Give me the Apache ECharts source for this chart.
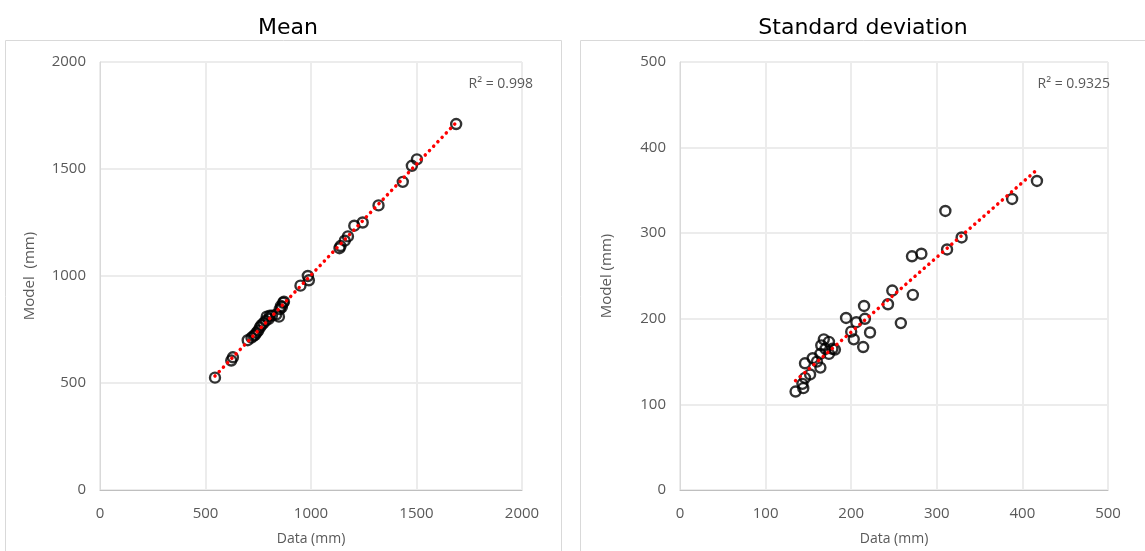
<!DOCTYPE html>
<html>
<head>
<meta charset="utf-8">
<script src="https://cdn.jsdelivr.net/npm/echarts@6/dist/echarts.min.js"></script>
<style>
  html, body { margin: 0; padding: 0; background: #fff; }
  #chart { width: 1145px; height: 551px; }
</style>
</head>
<body>
<div id="chart"></div>
<script>
// mean: data vs model (mm)
const meanData = [545, 622, 630, 700, 718, 728, 735, 742, 750, 758, 765, 775, 785, 790, 800, 805, 815, 835, 848, 852, 858, 862, 868, 872, 950, 985, 990, 1135, 1140, 1160, 1175, 1205, 1245, 1320, 1435, 1478, 1502, 1688];
const meanModel = [525, 605, 620, 700, 712, 720, 725, 735, 745, 760, 770, 780, 790, 810, 800, 815, 815, 820, 810, 845, 860, 855, 875, 880, 955, 1000, 980, 1130, 1140, 1165, 1185, 1235, 1250, 1330, 1440, 1515, 1545, 1710];

// standard deviation: data vs model (mm)
const sdData = [135, 144, 143, 146, 146, 152, 155, 160, 164, 164, 165, 168, 170, 174, 174, 178, 181, 194, 200, 203, 206, 214, 215, 216, 222, 243, 248, 258, 272, 271, 282, 310, 312, 329, 388, 417];
const sdModel = [115, 119, 124, 131, 148, 135, 154, 150, 143, 159, 169, 176, 165, 173, 159, 165, 164, 201, 185, 176, 196, 167, 215, 200, 184, 217, 233, 195, 228, 273, 276, 326, 281, 295, 340, 361];

const meanTicks = [0, 500, 1000, 1500, 2000];
const sdTicks = [0, 100, 200, 300, 400, 500];
const r2Labels = ['R² = 0.998', 'R² = 0.9325'];

const pairs = (xs, ys) => xs.map((x, i) => [x, ys[i]]);

// linear trendline from min x to max x
function trend(xs, ys) {
  const n = xs.length;
  const mx = xs.reduce((a, b) => a + b, 0) / n;
  const my = ys.reduce((a, b) => a + b, 0) / n;
  let sxy = 0, sxx = 0;
  for (let i = 0; i < n; i++) {
    sxy += (xs[i] - mx) * (ys[i] - my);
    sxx += (xs[i] - mx) * (xs[i] - mx);
  }
  const b = sxy / sxx, a = my - b * mx;
  const x0 = Math.min(...xs), x1 = Math.max(...xs);
  return [[x0, a + b * x0], [x1, a + b * x1]];
}

const labelFont = { color: '#595959', fontSize: 15, fontFamily: 'Open Sans', formatter: v => String(v) };
const splitColor = '#ececec';

function xAx(idx, ticks) {
  return {
    type: 'value', gridIndex: idx,
    min: ticks[0], max: ticks[ticks.length - 1], interval: ticks[1] - ticks[0],
    name: 'Data (mm)', nameLocation: 'middle', nameGap: 42,
    nameTextStyle: { color: '#595959', fontSize: 14, fontFamily: 'Open Sans' },
    axisLine: { lineStyle: { color: '#bfbfbf', width: 1 } },
    axisTick: { show: false },
    axisLabel: Object.assign({ margin: 16 }, labelFont),
    splitLine: { lineStyle: { color: splitColor, width: 2 } }
  };
}

function yAx(idx, ticks, name, gap) {
  return {
    type: 'value', gridIndex: idx,
    min: ticks[0], max: ticks[ticks.length - 1], interval: ticks[1] - ticks[0],
    name: name, nameLocation: 'middle', nameGap: gap,
    nameTextStyle: { color: '#595959', fontSize: 15, fontFamily: 'Open Sans' },
    axisLine: { show: true, lineStyle: { color: '#d9d9d9', width: 1 } },
    axisTick: { show: false },
    axisLabel: Object.assign({ margin: 14 }, labelFont),
    splitLine: { lineStyle: { color: splitColor, width: 2 } }
  };
}

const pointStyle = {
  type: 'scatter', symbol: 'circle', symbolSize: 10,
  itemStyle: { color: 'rgba(0,0,0,0)', borderColor: '#000', borderWidth: 2.4 },
  z: 2
};
const trendStyle = {
  type: 'line', symbol: 'none', z: 5,
  lineStyle: { color: '#ff0000', width: 3.5, type: [0.1, 6], cap: 'round' }
};

const chart = echarts.init(document.getElementById('chart'));
chart.setOption({
  animation: false,
  title: [
    { text: 'Mean', left: 283, top: 12, textAlign: 'center',
      textStyle: { fontFamily: 'DejaVu Sans', fontWeight: 'normal', fontSize: 22, color: '#000' } },
    { text: 'Standard deviation', left: 858, top: 12, textAlign: 'center',
      textStyle: { fontFamily: 'DejaVu Sans', fontWeight: 'normal', fontSize: 22, color: '#000' } }
  ],
  graphic: [
    { type: 'rect', shape: { x: 5.5, y: 40.5, width: 556, height: 520 },
      style: { fill: 'none', stroke: '#d9d9d9', lineWidth: 1 }, z: -1 },
    { type: 'rect', shape: { x: 580.5, y: 40.5, width: 570, height: 520 },
      style: { fill: 'none', stroke: '#d9d9d9', lineWidth: 1 }, z: -1 },
    { type: 'text', x: 533, y: 77, z: 100,
      style: { text: r2Labels[0], fill: '#595959', font: '14px "Open Sans"', align: 'right', textAlign: 'right' } },
    { type: 'text', x: 1110, y: 77, z: 100,
      style: { text: r2Labels[1], fill: '#595959', font: '14px "Open Sans"', align: 'right', textAlign: 'right' } }
  ],
  grid: [
    { left: 100, right: 623, top: 62, bottom: 60 },
    { left: 680, right: 37, top: 62, bottom: 60 }
  ],
  xAxis: [xAx(0, meanTicks), xAx(1, sdTicks)],
  yAxis: [yAx(0, meanTicks, 'Model  (mm)', 63), yAx(1, sdTicks, 'Model (mm)', 66)],
  series: [
    Object.assign({ xAxisIndex: 0, yAxisIndex: 0, data: pairs(meanData, meanModel) }, pointStyle),
    Object.assign({ xAxisIndex: 0, yAxisIndex: 0, data: trend(meanData, meanModel) }, trendStyle),
    Object.assign({ xAxisIndex: 1, yAxisIndex: 1, data: pairs(sdData, sdModel) }, pointStyle),
    Object.assign({ xAxisIndex: 1, yAxisIndex: 1, data: trend(sdData, sdModel) }, trendStyle)
  ]
});
</script>
</body>
</html>
